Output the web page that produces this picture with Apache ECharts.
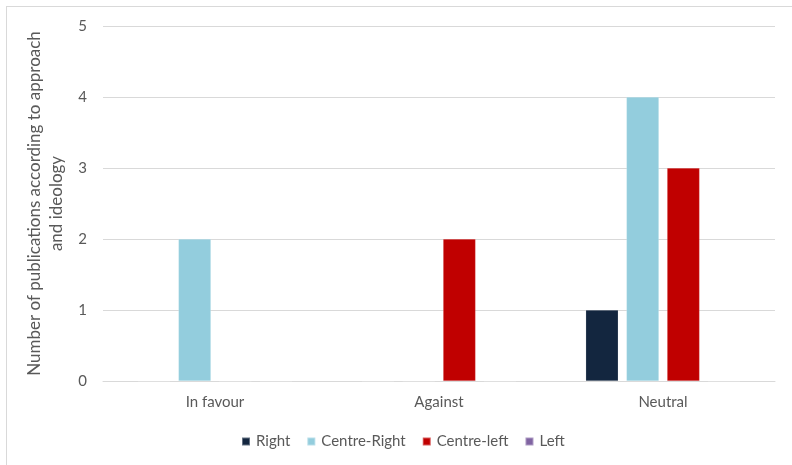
<!DOCTYPE html>
<html>
<head>
<meta charset="utf-8">
<script src="https://cdn.jsdelivr.net/npm/echarts@6/dist/echarts.min.js"></script>
<style>
html,body{margin:0;padding:0;background:#fff;}
#frame{position:absolute;left:6px;top:6px;width:800px;height:470px;border-left:1px solid #d9d9d9;border-top:1px solid #d9d9d9;}
#c{position:absolute;left:0;top:0;width:792px;height:465px;}
</style>
</head>
<body>
<div id="frame"></div>
<div id="c"></div>
<script>
const categories = ['In favour', 'Against', 'Neutral'];
const seriesNames = ['Right', 'Centre-Right', 'Centre-left', 'Left'];
const rightValues = [0, 0, 1];
const centreRightValues = [2, 0, 4];
const centreLeftValues = [0, 2, 3];
const leftValues = [0, 0, 0];
const yTicks = [0, 1, 2, 3, 4, 5];
const colors = ['#13263f', '#93cddd', '#c00000', '#8064a2'];
const allValues = [rightValues, centreRightValues, centreLeftValues, leftValues];

const font = 'Lato, "Open Sans", sans-serif';
const chart = echarts.init(document.getElementById('c'), null, {renderer: 'canvas'});
chart.setOption({
  animation: false,
  textStyle: {fontFamily: font},
  grid: {left: 103, right: 17, top: 26, bottom: 84, containLabel: false},
  legend: {
    data: seriesNames,
    left: 236, top: 429,
    itemWidth: 8, itemHeight: 8, itemGap: 16,
    icon: 'rect',
    textStyle: {fontFamily: font, fontSize: 15, color: '#595959', padding: [0, 0, 0, 1]}
  },
  xAxis: {
    type: 'category',
    data: categories,
    axisLine: {show: true, lineStyle: {color: '#d9d9d9', width: 1}},
    axisTick: {show: false},
    axisLabel: {fontFamily: font, fontSize: 15, color: '#595959', margin: 14}
  },
  yAxis: {
    type: 'value',
    min: yTicks[0], max: yTicks[yTicks.length - 1], interval: 1,
    name: 'Number of publications according to approach\nand ideology',
    nameLocation: 'middle',
    nameGap: 29,
    nameTextStyle: {fontFamily: font, fontSize: 17, color: '#595959', lineHeight: 22, align: 'center'},
    axisLine: {show: false},
    axisTick: {show: false},
    axisLabel: {fontFamily: font, fontSize: 15, color: '#595959', margin: 16},
    splitLine: {lineStyle: {color: '#d9d9d9', width: 1}}
  },
  series: seriesNames.map((n, i) => ({
    name: n,
    type: 'bar',
    data: allValues[i],
    barGap: '25%',
    barCategoryGap: '31%',
    itemStyle: {color: colors[i], borderColor: 'rgba(255,255,255,0.35)', borderWidth: 0.5}
  }))
});
</script>
</body>
</html>
